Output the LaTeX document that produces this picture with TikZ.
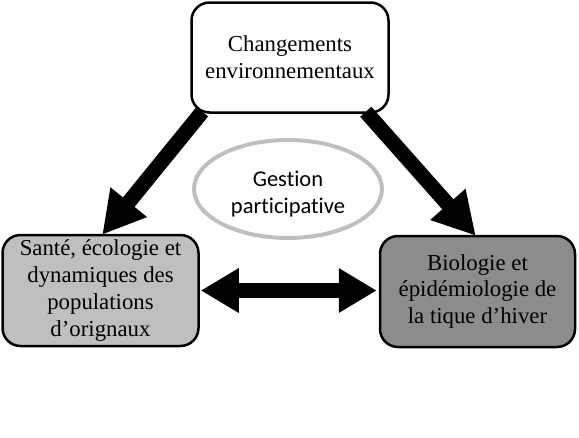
\documentclass[tikz,border=0pt]{standalone}
\usepackage{fontspec}
\setmainfont{Liberation Serif}
\newfontfamily\ellfont[Ligatures=NoCommon]{Carlito}
\usetikzlibrary{arrows.meta,shapes.geometric}
\begin{document}
\begin{tikzpicture}[x=1pt,y=-1pt,
  boxstyle/.style={draw=black,line width=2.5pt,rounded corners=18pt,align=center,
     font=\fontsize{22.8}{26.8}\selectfont,inner sep=0pt},
  ellstyle/.style={ellipse,draw=black!25,line width=4pt,minimum width=188pt,minimum height=98pt,inner sep=0pt},
  elltext/.style={align=center,font=\ellfont\fontsize{22.5}{27}\selectfont,inner sep=0pt},
  bigarrow/.style={line width=15pt,-{Triangle[length=42pt,width=44pt]}},
  dblarrow/.style={line width=15pt,{Triangle[length=38pt,width=42pt]}-{Triangle[length=38pt,width=42pt]}}]
\useasboundingbox (0,0) rectangle (579,437);
\node[boxstyle,fill=white,minimum width=197pt,minimum height=110pt] (top) at (290,57.5)
  {Changements\\environnementaux};
\node[boxstyle,fill=black!25,minimum width=196pt,minimum height=111pt] (left) at (100.5,290.5)
  {Santé, écologie et\\dynamiques des\\populations\\d’orignaux};
\node[boxstyle,fill=black!45,minimum width=195pt,minimum height=111pt] (right) at (477.5,291.5)
  {Biologie et\\épidémiologie de\\la tique d’hiver};
\node[ellstyle] (gest) at (288,189) {};
\node[elltext] (gestlabel) at ([yshift=-5pt]gest.center) {Gestion\\participative};
\draw[bigarrow] ([xshift=12pt,yshift=2pt]top.south west) -- ([xshift=101pt,yshift=-1pt]left.north west);
\draw[bigarrow] ([xshift=-24pt,yshift=2pt]top.south east) -- ([xshift=97pt,yshift=-1pt]right.north west);
\draw[dblarrow] ([xshift=1pt]left.east) -- ([xshift=-2pt]right.west |- left.east);
\end{tikzpicture}
\end{document}
